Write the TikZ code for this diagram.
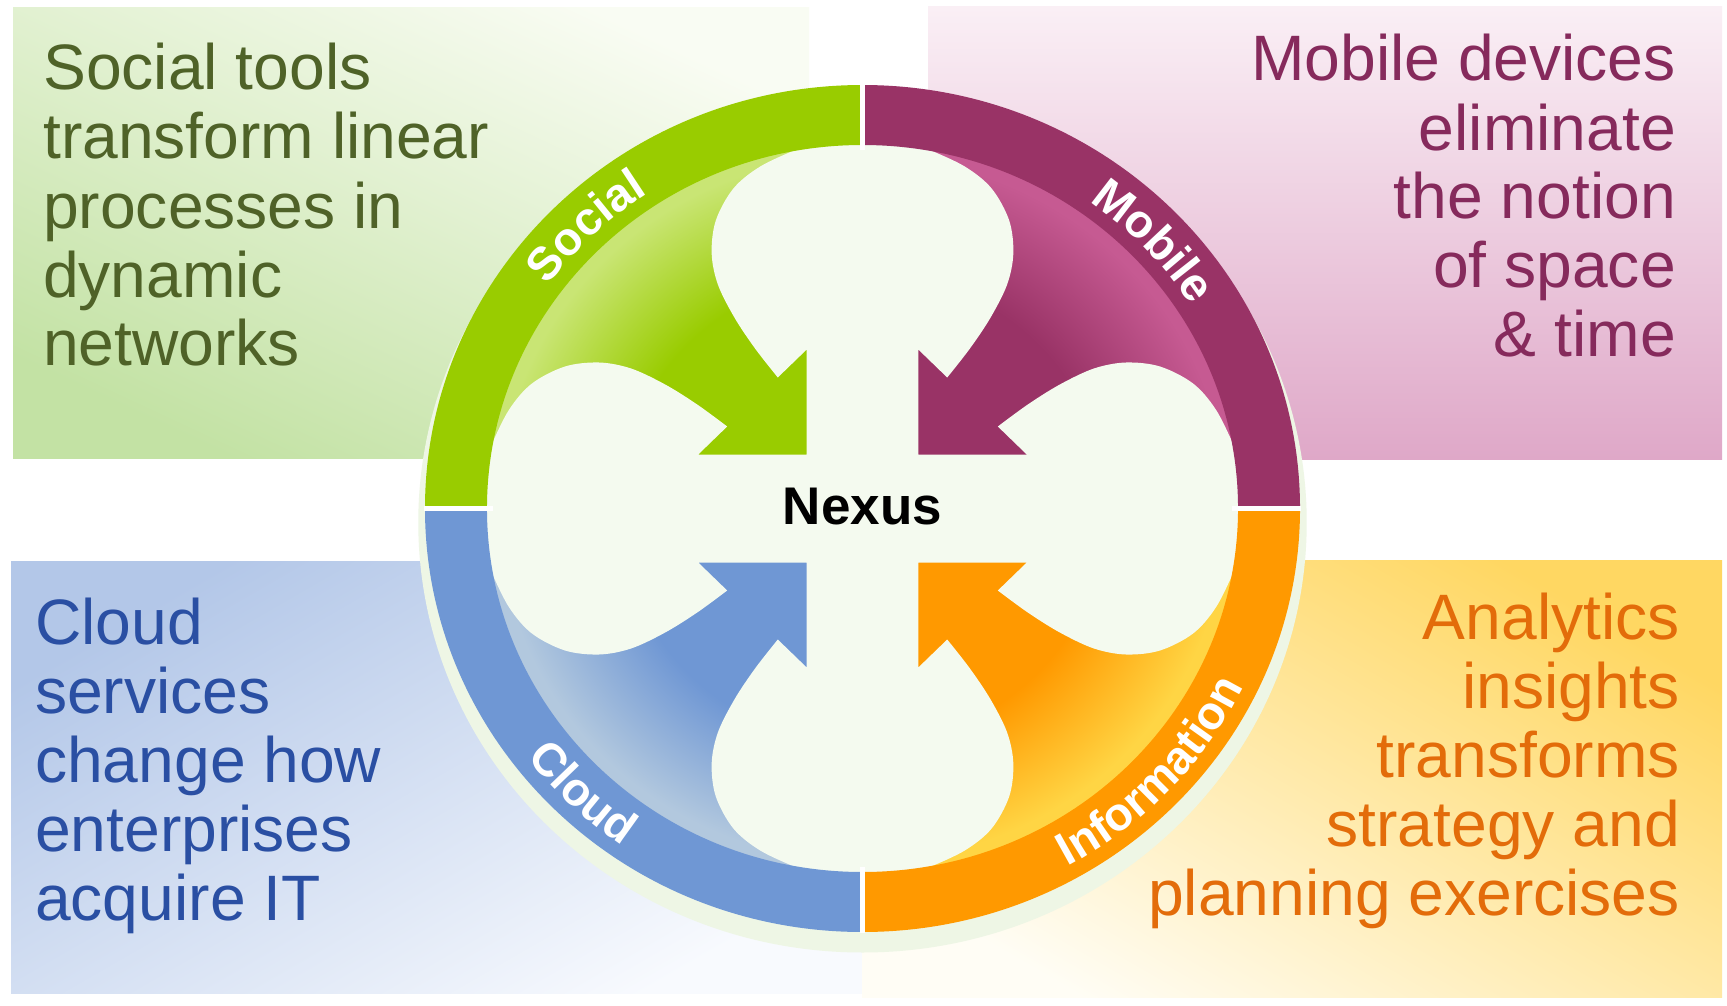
\documentclass[tikz,border=0pt]{standalone}
\usepackage{fontspec}
\setmainfont{Liberation Sans}
\usetikzlibrary{decorations.text}
\definecolor{gMain}{HTML}{99CC00}
\definecolor{gLight}{HTML}{C9E574}
\definecolor{mMain}{HTML}{993366}
\definecolor{mLight}{HTML}{C65A92}
\definecolor{oMain}{HTML}{FF9900}
\definecolor{oLight}{HTML}{FFD544}
\definecolor{bMain}{HTML}{6F97D4}
\definecolor{bLight}{HTML}{B2C8DE}
\definecolor{clover}{HTML}{F4FAEF}
\definecolor{shadowc}{HTML}{EEF6E5}
\definecolor{txtG}{HTML}{4F6228}
\definecolor{txtM}{HTML}{862A5C}
\definecolor{txtB}{HTML}{2A4FA3}
\definecolor{txtO}{HTML}{E36C0A}
\definecolor{pGt}{HTML}{F9FCF3}
\definecolor{pGb}{HTML}{C3E2A4}
\definecolor{pMt}{HTML}{FAEFF5}
\definecolor{pMb}{HTML}{DFA8C8}
\definecolor{pBt}{HTML}{B3C7E8}
\definecolor{pBb}{HTML}{F8FAFE}
\definecolor{pOt}{HTML}{FFD762}
\definecolor{pOb}{HTML}{FFFDF5}
\pgfdeclareradialshading{shG}{\pgfpoint{0bp}{0bp}}{color(0bp)=(gMain); color(16bp)=(gMain); color(24bp)=(gLight); color(50bp)=(gLight)}
\pgfdeclareradialshading{shM}{\pgfpoint{0bp}{0bp}}{color(0bp)=(mMain); color(16bp)=(mMain); color(24bp)=(mLight); color(50bp)=(mLight)}
\pgfdeclareradialshading{shO}{\pgfpoint{0bp}{0bp}}{color(0bp)=(oMain); color(16bp)=(oMain); color(24bp)=(oLight); color(50bp)=(oLight)}
\pgfdeclareradialshading{shB}{\pgfpoint{0bp}{0bp}}{color(0bp)=(bMain); color(16bp)=(bMain); color(24bp)=(bLight); color(50bp)=(bLight)}
\newcommand\ringfont{\fontsize{46.5}{50}\selectfont\bfseries}
\begin{document}
\begin{tikzpicture}[x=1pt,y=1pt,
  paneltext/.style={inner sep=0pt, font=\fontsize{64.2}{69}\selectfont},
  ringlabel/.style={decorate, decoration={text along path, text align=center, text color=white, text={|\ringfont|#1}}}]
\useasboundingbox (0,0) rectangle (1727,-1006);
\fill[white] (0,0) rectangle (1727,-1006);
% background panels
\shade[top color=pGt, bottom color=pGb, shading angle=-25] (13,-8) rectangle (809,-458);
\shade[top color=pMt, bottom color=pMb] (928,-7) rectangle (1722,-459);
\shade[top color=pBt, bottom color=pBb, shading angle=30] (11,-561) rectangle (862,-993);
\shade[top color=pOt, bottom color=pOb, shading angle=-30] (862,-560) rectangle (1722,-997);
% circle
\coordinate (C) at (862.5,-508.5);
\begin{scope}[shift={(C)}, xscale=1.0331]
  \fill[shadowc] (0,-14) circle[radius=430];
  \begin{scope}\clip (0,0) rectangle (-430,430); \shade[shading=shG] (0,0) circle[radius=368]; \end{scope}
  \begin{scope}\clip (0,0) rectangle (430,430); \shade[shading=shM] (0,0) circle[radius=368]; \end{scope}
  \begin{scope}\clip (0,0) rectangle (430,-430); \shade[shading=shO] (0,0) circle[radius=368]; \end{scope}
  \begin{scope}\clip (0,0) rectangle (-430,-430); \shade[shading=shB] (0,0) circle[radius=368]; \end{scope}
  % white clover with arrow notches (one closed shape)
  \fill[clover]
    (-54,54) -- (-54,159) -- (-82,131)
      -- plot[smooth, tension=0.55] coordinates {(-82,131) (-104,160) (-124,191) (-140,224) (-146,255) (-142,288) (-125,320) (-99,342) (-62,360) (-30,374) (0,378) (30,374) (62,360) (99,342) (125,320) (142,288) (146,255) (140,224) (124,191) (104,160) (82,131)}
      -- (54,159) -- (54,54)
    -- (159,54) -- (131,82)
      -- plot[smooth, tension=0.55] coordinates {(131,82) (160,104) (191,124) (224,140) (255,146) (288,142) (320,125) (342,99) (360,62) (374,30) (378,0) (374,-30) (360,-62) (342,-99) (320,-125) (288,-142) (255,-146) (224,-140) (191,-124) (160,-104) (131,-82)}
      -- (159,-54) -- (54,-54)
    -- (54,-159) -- (82,-131)
      -- plot[smooth, tension=0.55] coordinates {(82,-131) (104,-160) (124,-191) (140,-224) (146,-255) (142,-288) (125,-320) (99,-342) (62,-360) (30,-374) (0,-378) (-30,-374) (-62,-360) (-99,-342) (-125,-320) (-142,-288) (-146,-255) (-140,-224) (-124,-191) (-104,-160) (-82,-131)}
      -- (-54,-159) -- (-54,-54)
    -- (-159,-54) -- (-131,-82)
      -- plot[smooth, tension=0.55] coordinates {(-131,-82) (-160,-104) (-191,-124) (-224,-140) (-255,-146) (-288,-142) (-320,-125) (-342,-99) (-360,-62) (-374,-30) (-378,0) (-374,30) (-360,62) (-342,99) (-320,125) (-288,142) (-255,146) (-224,140) (-191,124) (-160,104) (-131,82)}
      -- (-159,54) -- cycle;
  % ring
  \fill[gMain] (180:423.5) arc[start angle=180,end angle=90,radius=423.5] -- (90:363.5) arc[start angle=90,end angle=180,radius=363.5] -- cycle;
  \fill[mMain] (90:423.5) arc[start angle=90,end angle=0,radius=423.5] -- (0:363.5) arc[start angle=0,end angle=90,radius=363.5] -- cycle;
  \fill[oMain] (0:423.5) arc[start angle=0,end angle=-90,radius=423.5] -- (-90:363.5) arc[start angle=-90,end angle=0,radius=363.5] -- cycle;
  \fill[bMain] (-90:423.5) arc[start angle=-90,end angle=-180,radius=423.5] -- (-180:363.5) arc[start angle=-180,end angle=-90,radius=363.5] -- cycle;
  \draw[white, line width=5pt] (0,424) -- (0,358) (0,-358) -- (0,-424) (-424,0) -- (-358,0) (358,0) -- (424,0);
  % ring labels
  \path[ringlabel=Social] (179:377.5) arc[start angle=179,end angle=89,radius=377.5];
  \path[ringlabel=Mobile] (88:377.5) arc[start angle=88,end angle=-2,radius=377.5];
  \path[ringlabel=Cloud] (181:409.5) arc[start angle=181,end angle=271,radius=409.5];
  \path[ringlabel=Information] (-88:409.5) arc[start angle=-88,end angle=2,radius=409.5];
\end{scope}
\node[inner sep=0pt, font=\fontsize{53}{53}\selectfont\bfseries] (nexus) at (862.5,-506.4) {Nexus};
% panel texts
\node[paneltext, anchor=base west, text=txtG] (s1) at (43,-90) {Social tools};
\node[paneltext, anchor=base west, text=txtG] (s2) at (43,-159) {transform linear};
\node[paneltext, anchor=base west, text=txtG] (s3) at (43,-228) {processes in};
\node[paneltext, anchor=base west, text=txtG] (s4) at (43,-297) {dynamic};
\node[paneltext, anchor=base west, text=txtG] (s5) at (43,-365) {networks};
\node[paneltext, anchor=base east, text=txtM] (m1) at (1676,-81) {Mobile devices};
\node[paneltext, anchor=base east, text=txtM] (m2) at (1676,-150) {eliminate};
\node[paneltext, anchor=base east, text=txtM] (m3) at (1676,-218) {the notion};
\node[paneltext, anchor=base east, text=txtM] (m4) at (1676,-287) {of space};
\node[paneltext, anchor=base east, text=txtM] (m5) at (1676,-356) {\& time};
\node[paneltext, anchor=base west, text=txtB] (c1) at (35,-644) {Cloud};
\node[paneltext, anchor=base west, text=txtB] (c2) at (35,-713) {services};
\node[paneltext, anchor=base west, text=txtB] (c3) at (35,-782) {change how};
\node[paneltext, anchor=base west, text=txtB] (c4) at (35,-851) {enterprises};
\node[paneltext, anchor=base west, text=txtB] (c5) at (35,-920) {acquire IT};
\node[paneltext, anchor=base east, text=txtO] (o1) at (1680,-639) {Analytics};
\node[paneltext, anchor=base east, text=txtO] (o2) at (1680,-708) {insights};
\node[paneltext, anchor=base east, text=txtO] (o3) at (1680,-777) {transforms};
\node[paneltext, anchor=base east, text=txtO] (o4) at (1680,-846) {strategy and};
\node[paneltext, anchor=base east, text=txtO] (o5) at (1680,-915) {planning exercises};
\end{tikzpicture}
\end{document}
